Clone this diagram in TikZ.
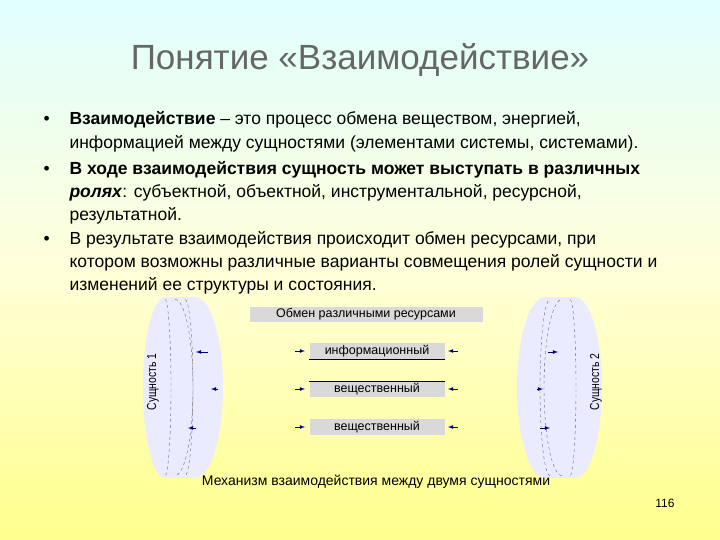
\documentclass[tikz,border=0pt]{standalone}
\usepackage{fontspec}
\setmainfont{Liberation Sans}
\begin{document}
\begin{tikzpicture}[x=1pt,y=-1pt,
 box/.style={fill=black!15,minimum width=135pt,minimum height=16pt,inner sep=0pt,font=\fontsize{12.5}{13}\selectfont},
 disk/.style={fill=blue!8!white},
 dsh/.style={dashed,draw=black!60,thin},
 sa/.style={-latex,draw=blue!50!black,thick},
 body/.style={anchor=west,font=\fontsize{17.5}{18}\selectfont}]
\shade[top color=cyan!12!white,bottom color=yellow!45!white,middle color=yellow!15!white] (0,0) rectangle (720,540);
\useasboundingbox (0,0) rectangle (720,540);
\node[text=black!60,font=\fontsize{35}{38}\selectfont] (title) at (360,60) {Понятие «Взаимодействие»};
\foreach \y in {120,170,240} \node[body] at (40,\y) {•};
\node[body] (l1) at (66,120) {\textbf{Взаимодействие} – это процесс обмена веществом, энергией,};
\node[body] (l2) at (66,144) {информацией между сущностями (элементами системы, системами).};
\node[body] (l3) at (66,170) {\textbf{В ходе взаимодействия сущность может выступать в различных}};
\node[body] (l4) at (66,193) {\textbf{\textit{ролях}}: субъектной, объектной, инструментальной, ресурсной,};
\node[body] (l5) at (66,216) {результатной.};
\node[body] (l6) at (66,240) {В результате взаимодействия происходит обмен ресурсами, при};
\node[body] (l7) at (66,263) {котором возможны различные варианты совмещения ролей сущности и};
\node[body] (l8) at (66,286) {изменений ее структуры и состояния.};
% left disk
\fill[disk] (165,387.5) ellipse[x radius=22,y radius=90.5];
\fill[disk] (195,387.5) ellipse[x radius=28,y radius=90.5];
\fill[disk] (165,297) rectangle (195,478);
\draw[dsh] plot[domain=-90:90,samples=40] ({175+18*cos(\x)},{387.5+88*sin(\x)});
\draw[dsh] plot[domain=-90:90,samples=40] ({185+8*cos(\x)},{387.5+88*sin(\x)});
\draw[dsh] plot[domain=-90:90,samples=40] ({165+6*cos(\x)},{387.5+88*sin(\x)});
% right disk
\fill[disk] (545,387.5) ellipse[x radius=28,y radius=90.5];
\fill[disk] (575,387.5) ellipse[x radius=27,y radius=90.5];
\fill[disk] (545,297) rectangle (575,478);
\draw[dsh] plot[domain=90:270,samples=40] ({550+10*cos(\x)},{387.5+88*sin(\x)});
\draw[dsh] plot[domain=90:270,samples=40] ({562+18*cos(\x)},{387.5+88*sin(\x)});
\draw[dsh] plot[domain=-90:90,samples=40] ({570+6*cos(\x)},{387.5+88*sin(\x)});
\node[rotate=90,font=\fontsize{13}{14}\selectfont,xscale=0.8] (s1) at (153,382) {Сущность 1};
\node[rotate=90,font=\fontsize{13}{14}\selectfont,xscale=0.8] (s2) at (596,382) {Сущность 2};
\node[box,minimum width=233pt,minimum height=15pt] (ob) at (366,314) {Обмен различными ресурсами};
\node[box] (inf) at (377,351) {информационный};
\draw (inf.south west) -- (inf.south east);
\node[box] (ve1) at (377,389) {вещественный};
\draw (ve1.north west) -- (ve1.north east);
\node[box] (ve2) at (377,427) {вещественный};
\foreach \n/\y in {inf/351,ve1/389,ve2/427}{
 \coordinate (l\n) at (295,\y); \coordinate (r\n) at (458,\y);
 \draw[sa] (l\n) -- ++(10,0);
 \draw[sa] (r\n) -- ++(-10,0);}
\coordinate (a1) at (208,352); \draw[sa] (a1) -- ++(-12,0);
\coordinate (a2) at (218,389); \draw[sa] (a2) -- ++(-7,0);
\coordinate (a3) at (196,428); \draw[sa] (a3) -- ++(-8,0);
\coordinate (c1) at (548,352); \draw[sa] (c1) -- ++(10,0);
\coordinate (c2) at (537,389); \draw[sa] (c2) -- ++(6,0);
\coordinate (c3) at (540,428); \draw[sa] (c3) -- ++(10,0);
\node[font=\fontsize{14}{15}\selectfont] (cap) at (376,482) {Механизм взаимодействия между двумя сущностями};
\node[font=\fontsize{12}{13}\selectfont] (pg) at (665,503) {116};
\end{tikzpicture}
\end{document}
